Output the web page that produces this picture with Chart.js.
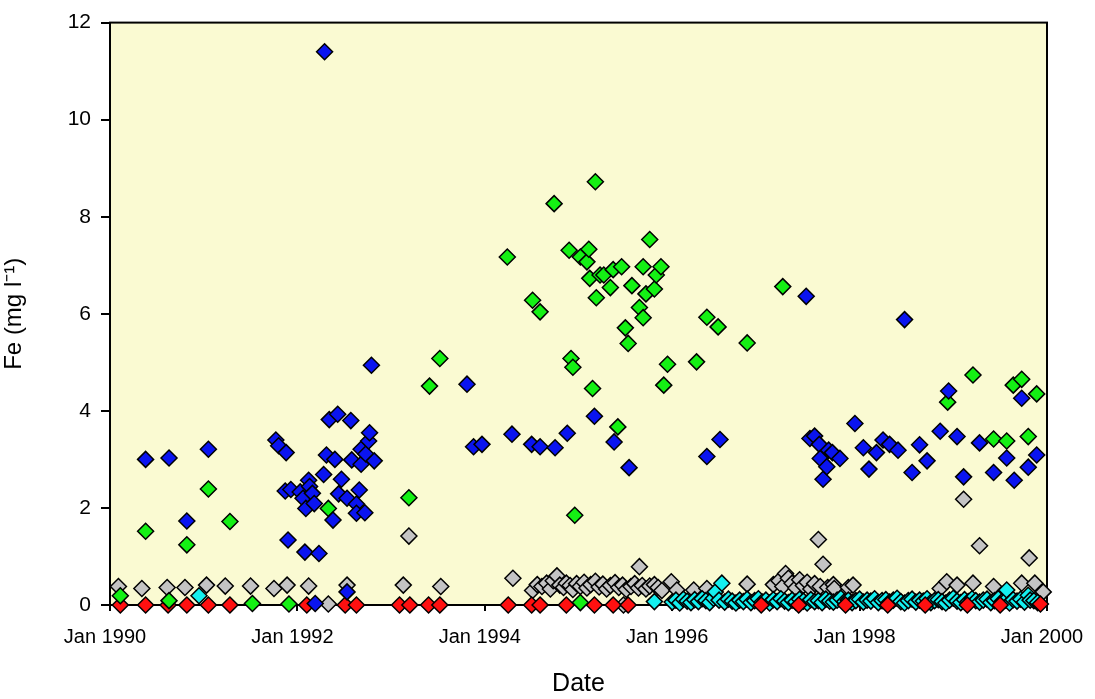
<!DOCTYPE html>
<html>
<head>
<meta charset="utf-8">
<script src="https://cdn.jsdelivr.net/npm/chart.js@4/dist/chart.umd.min.js"></script>
<style>
  html, body { margin: 0; padding: 0; background: #ffffff; }
  #wrap { width: 1095px; height: 699px; }
</style>
</head>
<body>
<div id="wrap"><canvas id="fe" width="1095" height="699"></canvas></div>
<script>
// Sampling dates are decimal years; Fe concentrations in mg/l.
const yearTicks = [1990, 1992, 1994, 1996, 1998, 2000];

const blueSite = [
  [1990.38, 3.00], [1990.63, 3.03], [1990.82, 1.73], [1991.05, 3.21],
  [1991.77, 3.40], [1991.80, 3.28], [1991.88, 3.14], [1991.90, 1.34], [1991.87, 2.35],
  [1991.93, 2.38], [1992.03, 2.33], [1992.06, 2.20], [1992.08, 1.09], [1992.09, 1.99],
  [1992.12, 2.57], [1992.13, 2.44], [1992.16, 2.30], [1992.18, 2.09], [1992.19, 0.03],
  [1992.23, 1.06], [1992.28, 2.69], [1992.29, 11.40], [1992.31, 3.09], [1992.34, 3.82],
  [1992.38, 1.75], [1992.40, 3.00], [1992.43, 3.93], [1992.44, 2.29], [1992.47, 2.59],
  [1992.53, 2.20], [1992.53, 0.27], [1992.57, 3.80], [1992.58, 2.99], [1992.63, 2.08],
  [1992.63, 1.89], [1992.66, 2.37], [1992.68, 2.90], [1992.68, 3.21], [1992.72, 1.90],
  [1992.73, 3.11], [1992.76, 3.38], [1992.77, 3.55], [1992.79, 4.94], [1992.82, 2.97],
  [1993.81, 4.55], [1993.88, 3.26], [1993.97, 3.31], [1994.29, 3.52], [1994.50, 3.31],
  [1994.59, 3.26], [1994.75, 3.24], [1994.88, 3.54], [1995.17, 3.89], [1995.38, 3.36],
  [1995.54, 2.83], [1996.37, 3.06], [1996.51, 3.41], [1997.43, 6.36], [1997.47, 3.43],
  [1997.52, 3.48], [1997.57, 3.31], [1997.58, 3.02], [1997.61, 2.59], [1997.65, 2.85],
  [1997.67, 3.19], [1997.71, 3.14], [1997.79, 3.02], [1997.95, 3.74], [1998.04, 3.24],
  [1998.10, 2.80], [1998.18, 3.14], [1998.25, 3.40], [1998.32, 3.31], [1998.41, 3.19],
  [1998.48, 5.88], [1998.56, 2.73], [1998.64, 3.30], [1998.72, 2.97], [1998.86, 3.58],
  [1998.95, 4.41], [1999.04, 3.47], [1999.11, 2.64], [1999.28, 3.34], [1999.43, 2.73],
  [1999.57, 3.03], [1999.65, 2.57], [1999.73, 4.26], [1999.80, 2.84], [1999.89, 3.09]
];

const greenSite = [
  [1990.11, 0.19], [1990.38, 1.52], [1990.63, 0.09], [1990.82, 1.24], [1991.05, 2.39],
  [1991.28, 1.72], [1991.52, 0.03], [1991.91, 0.02], [1992.33, 1.99], [1993.19, 2.21],
  [1993.41, 4.51], [1993.52, 5.08], [1994.24, 7.17], [1994.51, 6.28], [1994.59, 6.04],
  [1994.74, 8.27], [1994.90, 7.31], [1994.92, 5.08], [1994.94, 4.90], [1994.96, 1.85],
  [1995.02, 7.17], [1995.02, 0.05], [1995.09, 7.07], [1995.11, 7.33], [1995.12, 6.73],
  [1995.15, 4.46], [1995.18, 8.72], [1995.19, 6.33], [1995.23, 6.80], [1995.27, 6.80],
  [1995.34, 6.54], [1995.37, 6.91], [1995.42, 3.67], [1995.46, 6.97], [1995.50, 5.71],
  [1995.53, 5.39], [1995.57, 6.58], [1995.65, 6.13], [1995.69, 6.97], [1995.69, 5.92],
  [1995.72, 6.41], [1995.76, 7.53], [1995.81, 6.51], [1995.83, 6.80], [1995.88, 6.97],
  [1995.91, 4.53], [1995.95, 4.96], [1996.26, 5.01], [1996.37, 5.93], [1996.49, 5.73],
  [1996.80, 5.40], [1997.18, 6.56], [1998.94, 4.18], [1999.21, 4.74], [1999.43, 3.42],
  [1999.57, 3.38], [1999.64, 4.53], [1999.73, 4.65], [1999.80, 3.47], [1999.89, 4.35]
];

const redSite = [
  [1990.11, 0.00], [1990.38, 0.00], [1990.62, 0.00], [1990.82, 0.00], [1991.05, 0.00],
  [1991.28, 0.00], [1992.10, 0.00], [1992.51, 0.00], [1992.63, 0.00], [1993.09, 0.00],
  [1993.20, 0.00], [1993.40, 0.00], [1993.52, 0.00], [1994.25, 0.00], [1994.50, 0.00],
  [1994.59, 0.00], [1994.87, 0.00], [1995.17, 0.00], [1995.37, 0.00], [1995.53, 0.00],
  [1996.95, 0.00], [1997.35, 0.00], [1997.85, 0.00], [1998.30, 0.00], [1998.70, 0.00],
  [1999.15, 0.00], [1999.50, 0.00], [1999.93, 0.02]
];

const cyanSite = [
  [1990.95, 0.19], [1995.81, 0.07],
  [1996.00, 0.06], [1996.04, 0.10], [1996.08, 0.04], [1996.12, 0.12], [1996.16, 0.08],
  [1996.20, 0.05], [1996.24, 0.11], [1996.28, 0.07], [1996.32, 0.13], [1996.36, 0.09],
  [1996.40, 0.05], [1996.44, 0.14], [1996.46, 0.27], [1996.50, 0.10], [1996.53, 0.45],
  [1996.56, 0.06], [1996.60, 0.12], [1996.64, 0.08], [1996.68, 0.04], [1996.72, 0.10],
  [1996.76, 0.07], [1996.80, 0.12], [1996.84, 0.05], [1996.88, 0.09], [1996.92, 0.13],
  [1996.96, 0.06], [1997.00, 0.10], [1997.04, 0.04], [1997.08, 0.11], [1997.12, 0.07],
  [1997.16, 0.13], [1997.20, 0.08], [1997.24, 0.05], [1997.28, 0.10], [1997.32, 0.06],
  [1997.36, 0.12], [1997.40, 0.08], [1997.44, 0.04], [1997.48, 0.11], [1997.52, 0.07],
  [1997.56, 0.09], [1997.60, 0.05], [1997.64, 0.12], [1997.68, 0.08], [1997.72, 0.06],
  [1997.76, 0.10], [1997.80, 0.14], [1997.84, 0.07], [1997.88, 0.10], [1997.92, 0.05],
  [1997.96, 0.09], [1998.00, 0.12], [1998.04, 0.06], [1998.08, 0.10], [1998.12, 0.08],
  [1998.16, 0.13], [1998.20, 0.05], [1998.24, 0.09], [1998.28, 0.11], [1998.32, 0.06],
  [1998.36, 0.10], [1998.40, 0.14], [1998.44, 0.07], [1998.48, 0.04], [1998.52, 0.09],
  [1998.56, 0.12], [1998.60, 0.06], [1998.64, 0.10], [1998.68, 0.08], [1998.72, 0.13],
  [1998.76, 0.05], [1998.80, 0.09], [1998.84, 0.11], [1998.88, 0.07], [1998.92, 0.04],
  [1998.96, 0.10], [1999.00, 0.14], [1999.04, 0.08], [1999.08, 0.05], [1999.12, 0.11],
  [1999.16, 0.07], [1999.20, 0.13], [1999.24, 0.09], [1999.28, 0.06], [1999.32, 0.10],
  [1999.36, 0.12], [1999.40, 0.05], [1999.44, 0.09], [1999.48, 0.13], [1999.52, 0.07],
  [1999.56, 0.10], [1999.57, 0.31], [1999.60, 0.04], [1999.64, 0.11], [1999.68, 0.08],
  [1999.72, 0.12], [1999.76, 0.06], [1999.80, 0.20], [1999.82, 0.10], [1999.86, 0.09],
  [1999.90, 0.05]
];

const greySite = [
  [1990.09, 0.38], [1990.34, 0.34], [1990.61, 0.36], [1990.80, 0.36], [1991.03, 0.41],
  [1991.23, 0.39], [1991.50, 0.39], [1991.75, 0.34], [1991.89, 0.41], [1992.12, 0.39],
  [1992.33, 0.02], [1992.53, 0.41], [1993.13, 0.41], [1993.19, 1.42], [1993.53, 0.38],
  [1994.30, 0.55], [1994.51, 0.30], [1994.56, 0.42], [1994.61, 0.38], [1994.66, 0.45],
  [1994.70, 0.33], [1994.73, 0.50], [1994.77, 0.60], [1994.80, 0.41], [1994.84, 0.36],
  [1994.87, 0.45], [1994.91, 0.40], [1994.94, 0.32], [1994.98, 0.44], [1995.02, 0.38],
  [1995.06, 0.47], [1995.09, 0.35], [1995.13, 0.42], [1995.18, 0.49], [1995.22, 0.37],
  [1995.26, 0.43], [1995.30, 0.33], [1995.34, 0.40], [1995.39, 0.46], [1995.43, 0.36],
  [1995.47, 0.41], [1995.48, 0.00], [1995.51, 0.32], [1995.56, 0.38], [1995.60, 0.44],
  [1995.64, 0.35], [1995.65, 0.79], [1995.68, 0.40], [1995.72, 0.33], [1995.76, 0.39],
  [1995.81, 0.42], [1995.85, 0.36], [1995.89, 0.30], [1995.99, 0.48], [1996.05, 0.31],
  [1996.23, 0.31], [1996.37, 0.34], [1996.80, 0.43], [1997.08, 0.42], [1997.14, 0.50],
  [1997.18, 0.38], [1997.21, 0.65], [1997.24, 0.55], [1997.28, 0.45], [1997.32, 0.35],
  [1997.36, 0.52], [1997.40, 0.40], [1997.44, 0.47], [1997.48, 0.33], [1997.52, 0.44],
  [1997.56, 1.35], [1997.58, 0.38], [1997.61, 0.84], [1997.66, 0.36], [1997.72, 0.42],
  [1997.73, 0.34], [1997.88, 0.36], [1997.93, 0.41], [1998.86, 0.34], [1998.93, 0.48],
  [1999.04, 0.41], [1999.11, 2.18], [1999.21, 0.45], [1999.28, 1.22], [1999.43, 0.38],
  [1999.73, 0.45], [1999.81, 0.97], [1999.87, 0.45], [1999.96, 0.27]
];

const toPoints = rows => rows.map(([x, y]) => ({ x, y }));

function series(label, rows, fill) {
  return {
    label,
    data: toPoints(rows),
    pointStyle: 'rectRot',
    pointRadius: 8,
    pointHoverRadius: 8,
    pointBackgroundColor: fill,
    pointBorderColor: '#000000',
    pointBorderWidth: 1.5,
    showLine: false,
    clip: false
  };
}

// Plot background and surrounding frame
const plotFrame = {
  id: 'plotFrame',
  beforeDraw(chart) {
    const { ctx, chartArea: a } = chart;
    ctx.save();
    ctx.fillStyle = '#FAFAD2';
    ctx.fillRect(a.left, a.top, a.right - a.left, a.bottom - a.top);
    ctx.restore();
  },
  beforeDatasetsDraw(chart) {
    const { ctx, chartArea: a } = chart;
    ctx.save();
    ctx.strokeStyle = '#000000';
    ctx.lineWidth = 2;
    ctx.strokeRect(a.left, a.top, a.right - a.left, a.bottom - a.top);
    ctx.restore();
  }
};

const font = "'Liberation Sans', Arial, sans-serif";

new Chart(document.getElementById('fe'), {
  type: 'scatter',
  data: {
    datasets: [
      series('Site B', blueSite, '#0A14F0'),
      series('Site G', greenSite, '#14F014'),
      series('Site R', redSite, '#FF1010'),
      series('Site C', cyanSite, '#14F0F0'),
      series('Site Gy', greySite, '#C4C4C4')
    ]
  },
  options: {
    responsive: false,
    devicePixelRatio: 1,
    animation: false,
    layout: { padding: { top: 22, right: 48, left: 0, bottom: 0 } },
    plugins: {
      legend: { display: false },
      tooltip: { enabled: false }
    },
    scales: {
      x: {
        type: 'linear',
        min: 1990,
        max: 2000,
        afterBuildTicks(scale) {
          scale.ticks = yearTicks.map(v => ({ value: v }));
        },
        afterFit(scale) {
          scale.height = 94;
          scale.paddingLeft = 0;
          scale.paddingRight = 0;
        },
        ticks: {
          callback: v => 'Jan ' + v,
          color: '#000000',
          font: { family: font, size: 20 },
          padding: 14,
          labelOffset: -5,
          maxRotation: 0,
          autoSkip: false
        },
        grid: {
          drawOnChartArea: false,
          drawTicks: true,
          tickLength: 6,
          color: '#000000',
          lineWidth: 2
        },
        border: { display: true, color: '#000000', width: 2 },
        title: {
          display: true,
          text: 'Date',
          color: '#000000',
          font: { family: font, size: 25 },
          padding: { top: 8, bottom: 0 }
        }
      },
      y: {
        min: 0,
        max: 12,
        afterFit(scale) { scale.width = 110; },
        ticks: {
          stepSize: 2,
          color: '#000000',
          font: { family: font, size: 21 },
          padding: 10
        },
        grid: {
          drawOnChartArea: false,
          drawTicks: true,
          tickLength: 9,
          color: '#000000',
          lineWidth: 2
        },
        border: { display: true, color: '#000000', width: 2 },
        title: {
          display: true,
          text: 'Fe (mg l⁻¹)',
          color: '#000000',
          font: { family: font, size: 24 },
          padding: { top: 0, bottom: 6 }
        }
      }
    }
  },
  plugins: [plotFrame]
});
</script>
</body>
</html>
